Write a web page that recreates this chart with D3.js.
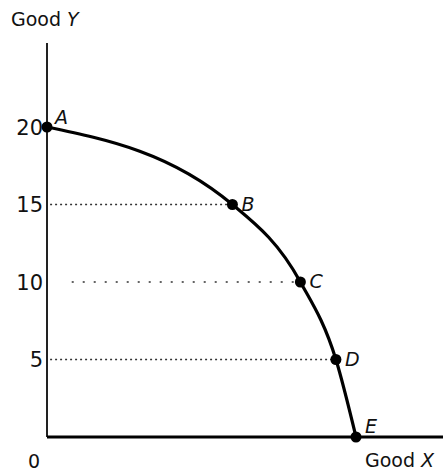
<!DOCTYPE html>
<html>
<head>
<meta charset="utf-8">
<script src="https://cdn.jsdelivr.net/npm/d3@7"></script>
<style>
  body { margin: 0; background: #fff; }
  text { font-family: "DejaVu Sans", sans-serif; fill: #111; }
</style>
</head>
<body>
<svg id="chart" width="446" height="474"></svg>
<script>
// PPF points
const labels = ["A", "B", "C", "D", "E"];
const goodX = [0, 12, 16.4, 18.7, 20];
const goodY = [20, 15, 10, 5, 0];
const yTicks = [5, 10, 15, 20];

const svg = d3.select("#chart");

const x = d3.scaleLinear().domain([0, 20]).range([47, 356]);
const y = d3.scaleLinear().domain([0, 20]).range([437, 127]);

const pts = labels.map((l, i) => ({ label: l, x: goodX[i], y: goodY[i] }));

// dotted guide lines
svg.selectAll("line.guide")
  .data(pts.filter(d => d.y > 0 && d.x > 0))
  .enter()
  .append("line")
  .attr("class", "guide")
  .attr("x1", d => (d.y === 10 ? x(1.6) : x(0.2)))
  .attr("x2", d => x(d.x))
  .attr("y1", d => y(d.y))
  .attr("y2", d => y(d.y))
  .attr("stroke", "#333")
  .attr("stroke-width", 1.4)
  .attr("stroke-dasharray", d => (d.y === 10 ? "2,9" : "2,3"));

// axes
svg.append("line")
  .attr("x1", x(0)).attr("x2", x(0))
  .attr("y1", 43).attr("y2", y(0))
  .attr("stroke", "#222").attr("stroke-width", 2);

svg.append("line")
  .attr("x1", x(0)).attr("x2", 443)
  .attr("y1", y(0)).attr("y2", y(0))
  .attr("stroke", "#000").attr("stroke-width", 3);

// tick labels
svg.selectAll("text.tick")
  .data(yTicks)
  .enter()
  .append("text")
  .attr("class", "tick")
  .attr("x", 43)
  .attr("y", d => y(d))
  .attr("dy", "0.36em")
  .attr("text-anchor", "end")
  .attr("font-size", 21)
  .text(d => d);

svg.append("text")
  .attr("x", 34).attr("y", 468)
  .attr("text-anchor", "middle")
  .attr("font-size", 19)
  .text("0");

// axis titles
const titleY = svg.append("text").attr("x", 11).attr("y", 26).attr("font-size", 19);
titleY.append("tspan").text("Good ");
titleY.append("tspan").attr("font-style", "italic").text("Y");

const titleX = svg.append("text").attr("x", 365).attr("y", 467).attr("font-size", 19);
titleX.append("tspan").text("Good ");
titleX.append("tspan").attr("font-style", "italic").text("X");

// curve
const line = d3.line()
  .x(d => x(d.x))
  .y(d => y(d.y))
  .curve(d3.curveMonotoneX);

svg.append("path")
  .datum(pts)
  .attr("d", line)
  .attr("fill", "none")
  .attr("stroke", "#000")
  .attr("stroke-width", 3.2);

// points
svg.selectAll("circle.pt")
  .data(pts)
  .enter()
  .append("circle")
  .attr("class", "pt")
  .attr("cx", d => x(d.x))
  .attr("cy", d => y(d.y))
  .attr("r", 5.5)
  .attr("fill", "#000");

svg.selectAll("text.pt")
  .data(pts)
  .enter()
  .append("text")
  .attr("class", "pt")
  .attr("x", d => x(d.x) + (d.label === "A" ? 8 : 9))
  .attr("y", d => y(d.y) + (d.label === "A" ? -3 : d.label === "E" ? -4 : 6))
  .attr("font-size", 19)
  .attr("font-style", "italic")
  .text(d => d.label);
</script>
</body>
</html>
